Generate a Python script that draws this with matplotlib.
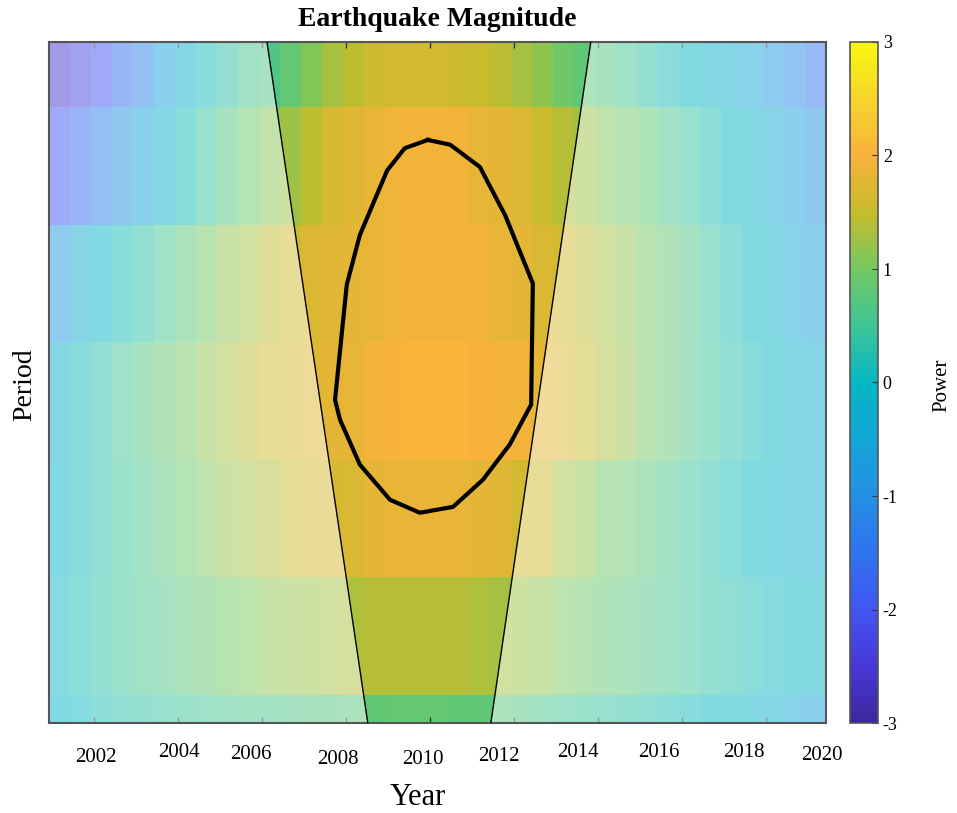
import numpy as np
import matplotlib
matplotlib.use("Agg")
import matplotlib.pyplot as plt
from matplotlib.colors import LinearSegmentedColormap
from matplotlib.transforms import blended_transform_factory

plt.rcParams['font.family'] = ['Liberation Serif', 'DejaVu Serif']
plt.rcParams['axes.unicode_minus'] = False

# ---------------- data ----------------
x_start = 2000.93
x_end = 2019.43
col_width = 0.5
n_rows = 7

row1 = [-2.6, -2.3, -2.0, -1.6, -1.2, -0.6, -0.2, 0.1, 0.35, 0.55, 0.65, 0.85, 1.1, 1.3, 1.45, 1.55, 1.6, 1.6, 1.6,
        1.55, 1.5, 1.45, 1.3, 1.15, 0.95, 0.8, 0.7, 0.5, 0.35, 0.15, 0.0, -0.15, -0.3, -0.5, -0.8, -1.1, -1.5]
row2 = [-2.0, -1.7, -1.3, -0.9, -0.6, -0.2, 0.1, 0.4, 0.7, 0.9, 1.1, 1.25, 1.45, 1.65, 1.75, 1.85, 1.9, 1.9, 1.9,
        1.9, 1.85, 1.8, 1.7, 1.55, 1.4, 1.25, 1.1, 0.95, 0.8, 0.6, 0.4, 0.2, 0.0, -0.15, -0.4, -0.7, -0.9]
row3 = [-0.8, -0.4, -0.1, 0.1, 0.3, 0.5, 0.75, 0.95, 1.15, 1.3, 1.45, 1.55, 1.7, 1.75, 1.8, 1.85, 1.9, 1.95, 1.95,
        1.95, 1.9, 1.85, 1.8, 1.7, 1.6, 1.45, 1.3, 1.15, 1.0, 0.85, 0.65, 0.4, 0.2, 0.0, -0.15, -0.4, -0.6]
row4 = [-0.2, 0.1, 0.3, 0.5, 0.7, 0.85, 1.0, 1.15, 1.3, 1.45, 1.55, 1.65, 1.75, 1.8, 1.85, 1.95, 2.0, 2.05, 2.05,
        2.05, 2.0, 1.95, 1.9, 1.8, 1.7, 1.5, 1.35, 1.2, 1.0, 0.85, 0.65, 0.45, 0.3, 0.1, 0.0, -0.2, -0.3]
row5 = [-0.1, 0.1, 0.3, 0.45, 0.6, 0.75, 0.9, 1.05, 1.2, 1.3, 1.4, 1.5, 1.6, 1.65, 1.7, 1.8, 1.85, 1.85, 1.85,
        1.85, 1.8, 1.75, 1.6, 1.5, 1.3, 1.15, 1.0, 0.9, 0.75, 0.6, 0.45, 0.3, 0.15, 0.0, -0.1, -0.2, -0.3]
row6 = [0.05, 0.2, 0.35, 0.45, 0.55, 0.65, 0.75, 0.85, 0.95, 1.05, 1.15, 1.2, 1.25, 1.3, 1.35, 1.4, 1.4, 1.4, 1.4,
        1.4, 1.35, 1.3, 1.25, 1.15, 1.05, 0.95, 0.85, 0.75, 0.65, 0.55, 0.45, 0.35, 0.25, 0.15, 0.05, -0.05, -0.15]
row7 = [-0.1, 0.05, 0.2, 0.3, 0.35, 0.4, 0.45, 0.5, 0.55, 0.6, 0.6, 0.65, 0.7, 0.7, 0.75, 0.8, 0.85, 0.85, 0.85,
        0.8, 0.8, 0.75, 0.7, 0.6, 0.5, 0.45, 0.4, 0.35, 0.3, 0.2, 0.1, 0.0, -0.05, -0.15, -0.3, -0.45, -0.6]

# cone of influence (year at top edge, year at bottom edge)
coi_left = [2006.12, 2008.52]
coi_right = [2013.83, 2011.45]

# significance contour vertices (year, period-row coordinate)
contour_x = [2009.95, 2010.48, 2011.19, 2011.79, 2012.45, 2012.41, 2011.90, 2011.26, 2010.55, 2009.76,
             2009.05, 2008.33, 2007.86, 2007.74, 2008.02, 2008.33, 2008.98, 2009.40, 2009.95]
contour_y = [1.28, 1.32, 1.51, 1.92, 2.50, 3.53, 3.87, 4.17, 4.40, 4.45,
             4.34, 4.04, 3.66, 3.49, 2.51, 2.09, 1.54, 1.35, 1.28]

tick_years = [2002, 2004, 2006, 2008, 2010, 2012, 2014, 2016, 2018]
label_texts = ['2002', '2004', '2006', '2008', '2010', '2012', '2014', '2016', '2018', '2020']
label_x = [2002.05, 2004.02, 2005.74, 2007.81, 2009.83, 2011.64, 2013.52, 2015.45, 2017.48, 2019.33]
label_dy = [0.050, 0.043, 0.046, 0.054, 0.053, 0.049, 0.043, 0.043, 0.043, 0.047]

cb_ticks = [-3, -2, -1, 0, 1, 2, 3]

# parula-like colour anchors (value, colour)
cmap_vals = [-3, -2.5, -2, -1.5, -1, -0.5, 0, 0.5, 1, 1.5, 2, 2.5, 3]
cmap_cols = ['#3d27a0', '#4838d8', '#4256f2', '#2f74ee', '#2490e4', '#12a6d6', '#05b6c4', '#3ec596',
             '#74c862', '#c6bc2c', '#f9b23c', '#f6d42c', '#f8f810']

# ---------------- plot ----------------
W, H = 957, 813
fig = plt.figure(figsize=(W / 100, H / 100), dpi=100)
ax = fig.add_axes([49 / W, (H - 723) / H, 777 / W, 681 / H])
cax = fig.add_axes([850 / W, (H - 723) / H, 28 / W, 681 / H])

cmap = LinearSegmentedColormap.from_list(
    'parula_like', [((v - cmap_vals[0]) / (cmap_vals[-1] - cmap_vals[0]), c) for v, c in zip(cmap_vals, cmap_cols)], N=256)

Z = np.array([row1, row2, row3, row4, row5, row6, row7])
n_cols = Z.shape[1]
x_edges = x_start + col_width * np.arange(n_cols + 1)
y_edges = np.arange(n_rows + 1)

mesh = ax.pcolormesh(x_edges, y_edges, Z, cmap=cmap, vmin=-3, vmax=3, shading='flat')

y_top, y_bot = 0.447, 6.238
ax.set_xlim(x_start, x_end)
ax.set_ylim(y_bot, y_top)

# fade outside the cone of influence
ax.fill([x_start, coi_left[0], coi_left[1], x_start], [y_top, y_top, y_bot, y_bot],
        color='white', alpha=0.5, lw=0, zorder=2)
ax.fill([x_end, coi_right[0], coi_right[1], x_end], [y_top, y_top, y_bot, y_bot],
        color='white', alpha=0.5, lw=0, zorder=2)
ax.plot(coi_left, [y_top, y_bot], color='black', lw=1.0, zorder=3)
ax.plot(coi_right, [y_top, y_bot], color='black', lw=1.0, zorder=3)

ax.plot(contour_x, contour_y, color='black', lw=3.0, zorder=4, solid_joinstyle='round')

ax.set_yticks([])
ax.set_xticks(tick_years)
ax.set_xticklabels([])
ax.tick_params(axis='x', direction='in', top=True, bottom=True, length=4, width=1, color='#333333')
for s in ax.spines.values():
    s.set_color('#555555')
    s.set_linewidth(1.5)

trans = blended_transform_factory(ax.transData, ax.transAxes)
for t, xv, dy in zip(label_texts, label_x, label_dy):
    ax.text(xv, -dy, t, transform=trans, ha='center', va='center', fontsize=15, clip_on=False)

fig.text(418 / W, 1 - 797 / H, 'Year', ha='center', va='center', fontsize=22)
fig.text(25 / W, 1 - 385 / H, 'Period', rotation=90, ha='center', va='center', fontsize=20)
fig.text(437 / W, 1 - 19 / H, 'Earthquake Magnitude', ha='center', va='center', fontsize=20, fontweight='bold')

cb = fig.colorbar(mesh, cax=cax, ticks=cb_ticks)
cb.outline.set_edgecolor('#555555')
cb.outline.set_linewidth(1.2)
cax.tick_params(direction='in', length=4, labelsize=13, color='#333333')
fig.text(942 / W, 1 - 385 / H, 'Power', rotation=90, ha='center', va='center', fontsize=15)

fig.savefig('out.png', dpi=100)
